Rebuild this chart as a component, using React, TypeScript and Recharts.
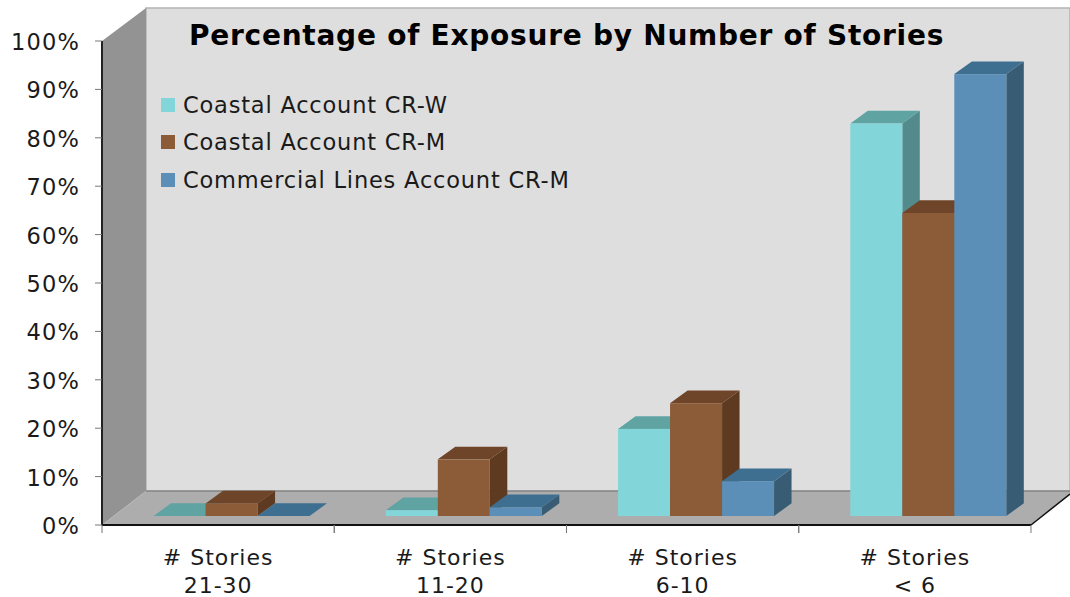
import { BarChart, Bar, XAxis, YAxis, Legend } from 'recharts'

const categories = ['21-30', '11-20', '6-10', '< 6']
const coastalCrW = [0, 1.2, 18, 81.1]
const coastalCrM = [2.6, 11.7, 23.3, 62.6]
const commercialCrM = [0, 1.8, 7.2, 91.3]
const yTicks = [0, 10, 20, 30, 40, 50, 60, 70, 80, 90, 100]

const rows = categories.map((name, i) => ({
  name,
  coastalCrW: coastalCrW[i],
  coastalCrM: coastalCrM[i],
  commercialCrM: commercialCrM[i],
}))

const FONT = '"DejaVu Sans", Verdana, sans-serif'
const DEPTH_X = 17.5
const DEPTH_Y = 12.7
const SHIFT_X = 13
const SHIFT_Y = 9
const HALF_STEP = 116.1

const faces = {
  teal: { front: '#82d6da', top: '#5fa3a3', side: '#538a8b' },
  brown: { front: '#8c5b38', top: '#6e4528', side: '#5e3a20' },
  blue: { front: '#5b8fb8', top: '#3f6f90', side: '#385c74' },
}

function box(colors: { front: string; top: string; side: string }) {
  return function Box3D(props: any) {
    const x = props.x + SHIFT_X
    const y = props.y - SHIFT_Y
    const w = props.width
    const h = props.height
    const dx = DEPTH_X
    const dy = DEPTH_Y
    return (
      <g>
        <polygon
          points={`${x + w},${y} ${x + w + dx},${y - dy} ${x + w + dx},${y + h - dy} ${x + w},${y + h}`}
          fill={colors.side}
        />
        <polygon
          points={`${x},${y} ${x + dx},${y - dy} ${x + w + dx},${y - dy} ${x + w},${y}`}
          fill={colors.top}
        />
        <rect x={x} y={y} width={w} height={h} fill={colors.front} />
      </g>
    )
  }
}

// the axis ticks sit between categories, so they are drawn with the label
function CategoryTick({ x, payload }: any) {
  return (
    <g>
      <line x1={x - HALF_STEP} y1={525} x2={x - HALF_STEP} y2={533} stroke="#777" />
      <line x1={x + HALF_STEP} y1={525} x2={x + HALF_STEP} y2={533} stroke="#777" />
      <text x={x} textAnchor="middle" fontFamily={FONT} fontSize={22} letterSpacing={1} fill="#1a1a1a">
        <tspan x={x} y={565}># Stories</tspan>
        <tspan x={x} y={593}>{payload.value}</tspan>
      </text>
    </g>
  )
}

function LegendBox({ payload }: any) {
  return (
    <div style={{ fontFamily: FONT, fontSize: 22.5, letterSpacing: 0.8, color: '#1a1a1a' }}>
      {payload.map((item: any) => (
        <div key={item.value} style={{ display: 'flex', alignItems: 'center', height: 37.5 }}>
          <span style={{ width: 14, height: 14, background: item.color, marginRight: 8 }} />
          {item.value}
        </div>
      ))}
    </div>
  )
}

export default function App() {
  return (
    <div style={{ position: 'absolute', left: 0, top: 0 }}>
      <BarChart
        width={1070}
        height={597}
        data={rows}
        margin={{ top: 41, right: 39, bottom: 0, left: 0 }}
        barCategoryGap="16.6%"
        barGap={0}
      >
        <g>
          <polygon points="146,8 1070,8 1070,491 146,491" fill="#dedede" stroke="#b4b4b4" strokeWidth={1.5} />
          <polygon points="102,41 146,8 146,491 102,525" fill="#939393" />
          <polygon points="102,525 146,491 1075,491 1031,525" fill="#adadad" />
          <line x1={146} y1={491} x2={1070} y2={491} stroke="#707070" />
          <line x1={1031} y1={525} x2={1070} y2={494} stroke="#111" strokeWidth={1.5} />
        </g>
        <XAxis
          dataKey="name"
          height={72}
          interval={0}
          tick={<CategoryTick />}
          tickLine={false}
          axisLine={{ stroke: '#111', strokeWidth: 2 }}
        />
        <YAxis
          width={102}
          domain={[0, 100]}
          ticks={yTicks}
          interval={0}
          tickFormatter={(v: number) => `${v}%`}
          tick={{ fontFamily: FONT, fontSize: 22.5, fill: '#1a1a1a', letterSpacing: 1.2, dy: 1 }}
          tickSize={7}
          tickMargin={15}
          axisLine={{ stroke: '#222', strokeWidth: 2 }}
          tickLine={{ stroke: '#777' }}
        />
        <Bar dataKey="coastalCrW" name="Coastal Account CR-W" fill={faces.teal.front} shape={box(faces.teal)} isAnimationActive={false} />
        <Bar dataKey="coastalCrM" name="Coastal Account CR-M" fill={faces.brown.front} shape={box(faces.brown)} isAnimationActive={false} />
        <Bar dataKey="commercialCrM" name="Commercial Lines Account CR-M" fill={faces.blue.front} shape={box(faces.blue)} isAnimationActive={false} />
        <Legend
          content={<LegendBox />}
          layout="vertical"
          align="center"
          verticalAlign="middle"
          itemSorter={null}
          wrapperStyle={{ position: 'absolute', left: 161, top: 86, width: 480, bottom: 'auto' }}
        />
        <text x={189} y={45} fontFamily={FONT} fontSize={28} letterSpacing={0.75} fontWeight="bold" fill="#000">
          Percentage of Exposure by Number of Stories
        </text>
      </BarChart>
    </div>
  )
}
